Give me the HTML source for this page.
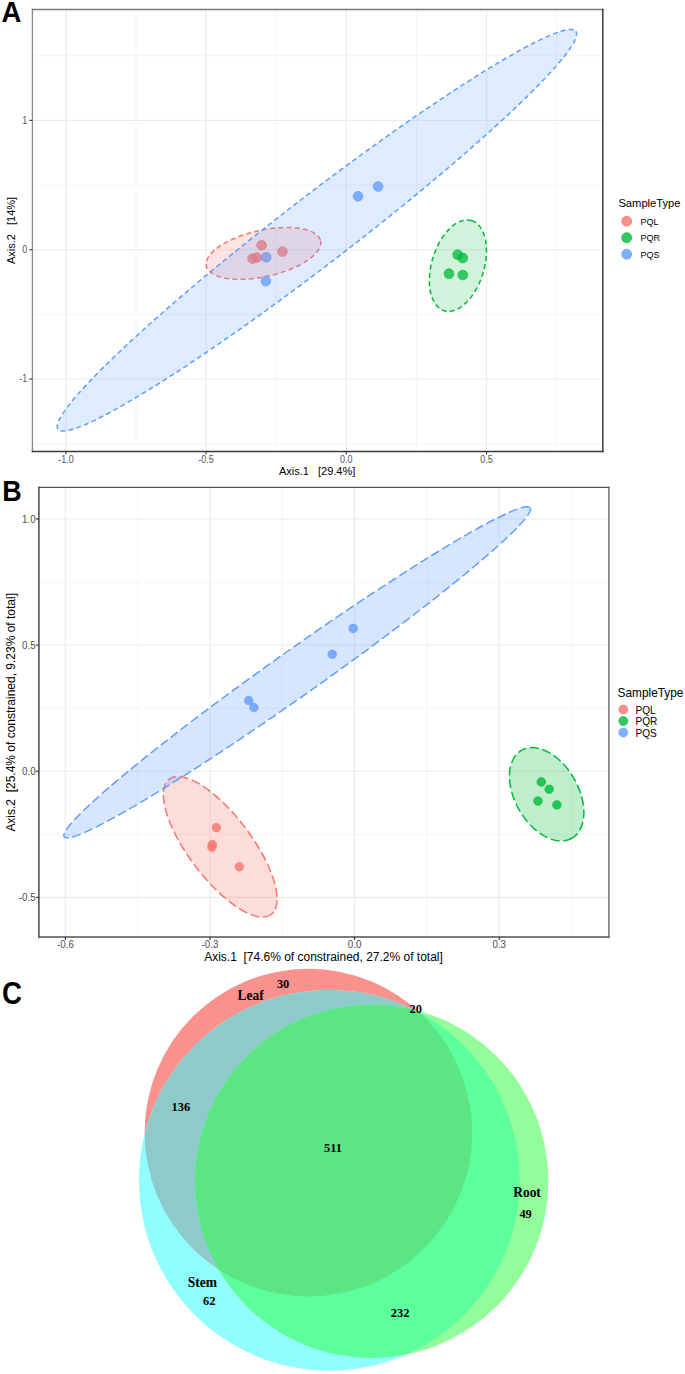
<!DOCTYPE html><html><head><meta charset="utf-8"><style>html,body{margin:0;padding:0;background:#fff;width:685px;height:1374px;overflow:hidden}svg{display:block}text{white-space:pre}</style></head><body>
<svg width="685" height="1374" viewBox="0 0 685 1374">
<rect width="685" height="1374" fill="#fff"/>
<line x1="136.00000000000003" y1="9.5" x2="136.00000000000003" y2="451.5" stroke="#F2F2F2" stroke-width="0.8"/>
<line x1="276.20000000000005" y1="9.5" x2="276.20000000000005" y2="451.5" stroke="#F2F2F2" stroke-width="0.8"/>
<line x1="416.4" y1="9.5" x2="416.4" y2="451.5" stroke="#F2F2F2" stroke-width="0.8"/>
<line x1="556.6" y1="9.5" x2="556.6" y2="451.5" stroke="#F2F2F2" stroke-width="0.8"/>
<line x1="32.4" y1="55.74999999999997" x2="602.8" y2="55.74999999999997" stroke="#F2F2F2" stroke-width="0.8"/>
<line x1="32.4" y1="185.04999999999998" x2="602.8" y2="185.04999999999998" stroke="#F2F2F2" stroke-width="0.8"/>
<line x1="32.4" y1="314.35" x2="602.8" y2="314.35" stroke="#F2F2F2" stroke-width="0.8"/>
<line x1="32.4" y1="443.65" x2="602.8" y2="443.65" stroke="#F2F2F2" stroke-width="0.8"/>
<line x1="65.90000000000003" y1="9.5" x2="65.90000000000003" y2="451.5" stroke="#EBEBEB" stroke-width="1.1"/>
<line x1="206.10000000000002" y1="9.5" x2="206.10000000000002" y2="451.5" stroke="#EBEBEB" stroke-width="1.1"/>
<line x1="346.3" y1="9.5" x2="346.3" y2="451.5" stroke="#EBEBEB" stroke-width="1.1"/>
<line x1="486.5" y1="9.5" x2="486.5" y2="451.5" stroke="#EBEBEB" stroke-width="1.1"/>
<line x1="32.4" y1="120.39999999999998" x2="602.8" y2="120.39999999999998" stroke="#EBEBEB" stroke-width="1.1"/>
<line x1="32.4" y1="249.7" x2="602.8" y2="249.7" stroke="#EBEBEB" stroke-width="1.1"/>
<line x1="32.4" y1="379.0" x2="602.8" y2="379.0" stroke="#EBEBEB" stroke-width="1.1"/>
<circle cx="261.6" cy="245.3" r="4.85" fill="#F8766D" fill-opacity="0.78" stroke="#F8766D" stroke-opacity="0.78" stroke-width="0.9"/>
<circle cx="252.6" cy="258.6" r="4.85" fill="#F8766D" fill-opacity="0.78" stroke="#F8766D" stroke-opacity="0.78" stroke-width="0.9"/>
<circle cx="256.9" cy="257.6" r="4.85" fill="#F8766D" fill-opacity="0.78" stroke="#F8766D" stroke-opacity="0.78" stroke-width="0.9"/>
<circle cx="282.5" cy="251.6" r="4.85" fill="#F8766D" fill-opacity="0.78" stroke="#F8766D" stroke-opacity="0.78" stroke-width="0.9"/>
<circle cx="457.6" cy="254.7" r="4.85" fill="#00BA38" fill-opacity="0.75" stroke="#00BA38" stroke-opacity="0.75" stroke-width="0.9"/>
<circle cx="462.8" cy="258.0" r="4.85" fill="#00BA38" fill-opacity="0.75" stroke="#00BA38" stroke-opacity="0.75" stroke-width="0.9"/>
<circle cx="449.0" cy="273.7" r="4.85" fill="#00BA38" fill-opacity="0.75" stroke="#00BA38" stroke-opacity="0.75" stroke-width="0.9"/>
<circle cx="462.8" cy="275.0" r="4.85" fill="#00BA38" fill-opacity="0.75" stroke="#00BA38" stroke-opacity="0.75" stroke-width="0.9"/>
<circle cx="358.0" cy="196.3" r="4.85" fill="#619CFF" fill-opacity="0.78" stroke="#619CFF" stroke-opacity="0.78" stroke-width="0.9"/>
<circle cx="378.1" cy="186.5" r="4.85" fill="#619CFF" fill-opacity="0.78" stroke="#619CFF" stroke-opacity="0.78" stroke-width="0.9"/>
<circle cx="266.2" cy="257.3" r="4.85" fill="#619CFF" fill-opacity="0.78" stroke="#619CFF" stroke-opacity="0.78" stroke-width="0.9"/>
<circle cx="265.9" cy="281.1" r="4.85" fill="#619CFF" fill-opacity="0.78" stroke="#619CFF" stroke-opacity="0.78" stroke-width="0.9"/>
<ellipse cx="263.45" cy="253.4" rx="58.5" ry="23.2" transform="rotate(-12.5 263.45 253.4)" fill="#F8766D" fill-opacity="0.2" stroke="#F8766D" stroke-width="1.5" stroke-dasharray="5 3.2" stroke-dashoffset="0"/>
<ellipse cx="457.9" cy="265.65" rx="47.15" ry="26.2" transform="rotate(-73.1 457.9 265.65)" fill="#00BA38" fill-opacity="0.18" stroke="#00BA38" stroke-width="1.5" stroke-dasharray="5 3.2" stroke-dashoffset="0"/>
<ellipse cx="316.9" cy="230.3" rx="326.5" ry="33.9" transform="rotate(-37.55 316.9 230.3)" fill="#619CFF" fill-opacity="0.2" stroke="#619CFF" stroke-width="1.5" stroke-dasharray="5 3.2" stroke-dashoffset="0"/>
<line x1="31.75" y1="9.5" x2="603.55" y2="9.5" stroke="#777" stroke-width="1.3"/>
<line x1="32.4" y1="8.85" x2="32.4" y2="452.25" stroke="#888" stroke-width="1.3"/>
<line x1="31.75" y1="451.5" x2="603.55" y2="451.5" stroke="#3a3a3a" stroke-width="1.5"/>
<line x1="602.8" y1="8.85" x2="602.8" y2="452.25" stroke="#3a3a3a" stroke-width="1.5"/>
<line x1="29.4" y1="120.39999999999998" x2="32.4" y2="120.39999999999998" stroke="#333" stroke-width="1.1"/>
<text x="0" y="0" transform="translate(27.2 123.79999999999998) scale(1.0 1.12)" font-family='"Liberation Sans", sans-serif' font-size="9" fill="#555" text-anchor="end" font-weight="normal" >1</text>
<line x1="29.4" y1="249.7" x2="32.4" y2="249.7" stroke="#333" stroke-width="1.1"/>
<text x="0" y="0" transform="translate(27.2 253.1) scale(1.0 1.12)" font-family='"Liberation Sans", sans-serif' font-size="9" fill="#555" text-anchor="end" font-weight="normal" >0</text>
<line x1="29.4" y1="379.0" x2="32.4" y2="379.0" stroke="#333" stroke-width="1.1"/>
<text x="0" y="0" transform="translate(27.2 382.4) scale(1.0 1.12)" font-family='"Liberation Sans", sans-serif' font-size="9" fill="#555" text-anchor="end" font-weight="normal" >-1</text>
<line x1="65.90000000000003" y1="451.5" x2="65.90000000000003" y2="454.5" stroke="#333" stroke-width="1.1"/>
<text x="0" y="0" transform="translate(65.90000000000003 462.6) scale(1.0 1.12)" font-family='"Liberation Sans", sans-serif' font-size="9" fill="#555" text-anchor="middle" font-weight="normal" >-1.0</text>
<line x1="206.10000000000002" y1="451.5" x2="206.10000000000002" y2="454.5" stroke="#333" stroke-width="1.1"/>
<text x="0" y="0" transform="translate(206.10000000000002 462.6) scale(1.0 1.12)" font-family='"Liberation Sans", sans-serif' font-size="9" fill="#555" text-anchor="middle" font-weight="normal" >-0.5</text>
<line x1="346.3" y1="451.5" x2="346.3" y2="454.5" stroke="#333" stroke-width="1.1"/>
<text x="0" y="0" transform="translate(346.3 462.6) scale(1.0 1.12)" font-family='"Liberation Sans", sans-serif' font-size="9" fill="#555" text-anchor="middle" font-weight="normal" >0.0</text>
<line x1="486.5" y1="451.5" x2="486.5" y2="454.5" stroke="#333" stroke-width="1.1"/>
<text x="0" y="0" transform="translate(486.5 462.6) scale(1.0 1.12)" font-family='"Liberation Sans", sans-serif' font-size="9" fill="#555" text-anchor="middle" font-weight="normal" >0.5</text>
<text x="0" y="0" transform="translate(317.1 474.5) scale(1.0 1.04)" font-family='"Liberation Sans", sans-serif' font-size="11" fill="#000" text-anchor="middle" font-weight="normal" >Axis.1   [29.4%]</text>
<text x="0" y="0" transform="translate(14.8 230.5) rotate(-90) scale(1.0 1.04)" font-family='"Liberation Sans", sans-serif' font-size="11" fill="#000" text-anchor="middle" font-weight="normal" >Axis.2   [14%]</text>
<text x="0" y="0" transform="translate(618.4 207.2) scale(1.0 1.04)" font-family='"Liberation Sans", sans-serif' font-size="11.2" fill="#000" text-anchor="start" font-weight="normal" >SampleType</text>
<circle cx="626.7" cy="221.2" r="4.95" fill="#F8766D" fill-opacity="0.8" stroke="#F8766D" stroke-opacity="0.8" stroke-width="0.9"/>
<text x="0" y="0" transform="translate(640.5 224.5) scale(1.0 1.04)" font-family='"Liberation Sans", sans-serif' font-size="9.0" fill="#000" text-anchor="start" font-weight="normal" >PQL</text>
<circle cx="626.7" cy="237.7" r="4.95" fill="#00BA38" fill-opacity="0.8" stroke="#00BA38" stroke-opacity="0.8" stroke-width="0.9"/>
<text x="0" y="0" transform="translate(640.5 241.0) scale(1.0 1.04)" font-family='"Liberation Sans", sans-serif' font-size="9.0" fill="#000" text-anchor="start" font-weight="normal" >PQR</text>
<circle cx="626.7" cy="254.2" r="4.95" fill="#619CFF" fill-opacity="0.8" stroke="#619CFF" stroke-opacity="0.8" stroke-width="0.9"/>
<text x="0" y="0" transform="translate(640.5 257.5) scale(1.0 1.04)" font-family='"Liberation Sans", sans-serif' font-size="9.0" fill="#000" text-anchor="start" font-weight="normal" >PQS</text>
<text x="0" y="0" transform="translate(1.4 21.6) scale(0.926 1.0)" font-family='"Liberation Sans", sans-serif' font-size="29.7" fill="#000" text-anchor="start" font-weight="bold" >A</text>
<line x1="137.70000000000002" y1="487.4" x2="137.70000000000002" y2="937.0" stroke="#F2F2F2" stroke-width="0.8"/>
<line x1="282.3" y1="487.4" x2="282.3" y2="937.0" stroke="#F2F2F2" stroke-width="0.8"/>
<line x1="426.90000000000003" y1="487.4" x2="426.90000000000003" y2="937.0" stroke="#F2F2F2" stroke-width="0.8"/>
<line x1="571.5" y1="487.4" x2="571.5" y2="937.0" stroke="#F2F2F2" stroke-width="0.8"/>
<line x1="38.9" y1="582.0050000000001" x2="608.9" y2="582.0050000000001" stroke="#F2F2F2" stroke-width="0.8"/>
<line x1="38.9" y1="708.135" x2="608.9" y2="708.135" stroke="#F2F2F2" stroke-width="0.8"/>
<line x1="38.9" y1="834.2650000000001" x2="608.9" y2="834.2650000000001" stroke="#F2F2F2" stroke-width="0.8"/>
<line x1="65.40000000000003" y1="487.4" x2="65.40000000000003" y2="937.0" stroke="#EBEBEB" stroke-width="1.1"/>
<line x1="210.00000000000003" y1="487.4" x2="210.00000000000003" y2="937.0" stroke="#EBEBEB" stroke-width="1.1"/>
<line x1="354.6" y1="487.4" x2="354.6" y2="937.0" stroke="#EBEBEB" stroke-width="1.1"/>
<line x1="499.20000000000005" y1="487.4" x2="499.20000000000005" y2="937.0" stroke="#EBEBEB" stroke-width="1.1"/>
<line x1="38.9" y1="518.94" x2="608.9" y2="518.94" stroke="#EBEBEB" stroke-width="1.1"/>
<line x1="38.9" y1="645.07" x2="608.9" y2="645.07" stroke="#EBEBEB" stroke-width="1.1"/>
<line x1="38.9" y1="771.2" x2="608.9" y2="771.2" stroke="#EBEBEB" stroke-width="1.1"/>
<line x1="38.9" y1="897.33" x2="608.9" y2="897.33" stroke="#EBEBEB" stroke-width="1.1"/>
<circle cx="216.4" cy="827.6" r="4.3" fill="#F8766D" fill-opacity="0.8" stroke="#F8766D" stroke-opacity="0.8" stroke-width="0.8"/>
<circle cx="212.3" cy="844.6" r="4.3" fill="#F8766D" fill-opacity="0.8" stroke="#F8766D" stroke-opacity="0.8" stroke-width="0.8"/>
<circle cx="211.9" cy="847.3" r="4.3" fill="#F8766D" fill-opacity="0.8" stroke="#F8766D" stroke-opacity="0.8" stroke-width="0.8"/>
<circle cx="239.3" cy="866.7" r="4.3" fill="#F8766D" fill-opacity="0.8" stroke="#F8766D" stroke-opacity="0.8" stroke-width="0.8"/>
<circle cx="541.3" cy="781.9" r="4.3" fill="#00BA38" fill-opacity="0.8" stroke="#00BA38" stroke-opacity="0.8" stroke-width="0.8"/>
<circle cx="549.2" cy="789.2" r="4.3" fill="#00BA38" fill-opacity="0.8" stroke="#00BA38" stroke-opacity="0.8" stroke-width="0.8"/>
<circle cx="537.9" cy="801.0" r="4.3" fill="#00BA38" fill-opacity="0.8" stroke="#00BA38" stroke-opacity="0.8" stroke-width="0.8"/>
<circle cx="556.9" cy="804.9" r="4.3" fill="#00BA38" fill-opacity="0.8" stroke="#00BA38" stroke-opacity="0.8" stroke-width="0.8"/>
<circle cx="248.8" cy="700.5" r="4.3" fill="#619CFF" fill-opacity="0.8" stroke="#619CFF" stroke-opacity="0.8" stroke-width="0.8"/>
<circle cx="253.9" cy="707.5" r="4.3" fill="#619CFF" fill-opacity="0.8" stroke="#619CFF" stroke-opacity="0.8" stroke-width="0.8"/>
<circle cx="332.2" cy="654.3" r="4.3" fill="#619CFF" fill-opacity="0.8" stroke="#619CFF" stroke-opacity="0.8" stroke-width="0.8"/>
<circle cx="353.2" cy="628.4" r="4.3" fill="#619CFF" fill-opacity="0.8" stroke="#619CFF" stroke-opacity="0.8" stroke-width="0.8"/>
<ellipse cx="220.2" cy="846.8" rx="84.8" ry="31.5" transform="rotate(53.0 220.2 846.8)" fill="#F8766D" fill-opacity="0.25" stroke="#F8766D" stroke-width="1.5" stroke-dasharray="9 3.7" stroke-dashoffset="0"/>
<ellipse cx="546.65" cy="794.3" rx="50.67" ry="31.6" transform="rotate(60.2 546.65 794.3)" fill="#00BA38" fill-opacity="0.25" stroke="#00BA38" stroke-width="1.5" stroke-dasharray="9 3.7" stroke-dashoffset="0"/>
<ellipse cx="297.15" cy="672.3" rx="285.2" ry="22.7" transform="rotate(-35.23 297.15 672.3)" fill="#619CFF" fill-opacity="0.25" stroke="#619CFF" stroke-width="1.5" stroke-dasharray="9 3.7" stroke-dashoffset="0"/>
<line x1="38.15" y1="487.4" x2="609.55" y2="487.4" stroke="#555" stroke-width="1.3"/>
<line x1="38.9" y1="486.75" x2="38.9" y2="937.75" stroke="#444" stroke-width="1.5"/>
<line x1="38.15" y1="937.0" x2="609.55" y2="937.0" stroke="#505050" stroke-width="1.5"/>
<line x1="608.9" y1="486.75" x2="608.9" y2="937.75" stroke="#5a5a5a" stroke-width="1.3"/>
<line x1="35.9" y1="518.94" x2="38.9" y2="518.94" stroke="#333" stroke-width="1.1"/>
<text x="0" y="0" transform="translate(35.6 522.84) scale(1.0 1.12)" font-family='"Liberation Sans", sans-serif' font-size="9.8" fill="#4D4D4D" text-anchor="end" font-weight="normal" >1.0</text>
<line x1="35.9" y1="645.07" x2="38.9" y2="645.07" stroke="#333" stroke-width="1.1"/>
<text x="0" y="0" transform="translate(35.6 648.97) scale(1.0 1.12)" font-family='"Liberation Sans", sans-serif' font-size="9.8" fill="#4D4D4D" text-anchor="end" font-weight="normal" >0.5</text>
<line x1="35.9" y1="771.2" x2="38.9" y2="771.2" stroke="#333" stroke-width="1.1"/>
<text x="0" y="0" transform="translate(35.6 775.1) scale(1.0 1.12)" font-family='"Liberation Sans", sans-serif' font-size="9.8" fill="#4D4D4D" text-anchor="end" font-weight="normal" >0.0</text>
<line x1="35.9" y1="897.33" x2="38.9" y2="897.33" stroke="#333" stroke-width="1.1"/>
<text x="0" y="0" transform="translate(35.6 901.23) scale(1.0 1.12)" font-family='"Liberation Sans", sans-serif' font-size="9.8" fill="#4D4D4D" text-anchor="end" font-weight="normal" >-0.5</text>
<line x1="65.40000000000003" y1="937.0" x2="65.40000000000003" y2="940.0" stroke="#333" stroke-width="1.1"/>
<text x="0" y="0" transform="translate(65.40000000000003 948.2) scale(1.0 1.12)" font-family='"Liberation Sans", sans-serif' font-size="9.8" fill="#4D4D4D" text-anchor="middle" font-weight="normal" >-0.6</text>
<line x1="210.00000000000003" y1="937.0" x2="210.00000000000003" y2="940.0" stroke="#333" stroke-width="1.1"/>
<text x="0" y="0" transform="translate(210.00000000000003 948.2) scale(1.0 1.12)" font-family='"Liberation Sans", sans-serif' font-size="9.8" fill="#4D4D4D" text-anchor="middle" font-weight="normal" >-0.3</text>
<line x1="354.6" y1="937.0" x2="354.6" y2="940.0" stroke="#333" stroke-width="1.1"/>
<text x="0" y="0" transform="translate(354.6 948.2) scale(1.0 1.12)" font-family='"Liberation Sans", sans-serif' font-size="9.8" fill="#4D4D4D" text-anchor="middle" font-weight="normal" >0.0</text>
<line x1="499.20000000000005" y1="937.0" x2="499.20000000000005" y2="940.0" stroke="#333" stroke-width="1.1"/>
<text x="0" y="0" transform="translate(499.20000000000005 948.2) scale(1.0 1.12)" font-family='"Liberation Sans", sans-serif' font-size="9.8" fill="#4D4D4D" text-anchor="middle" font-weight="normal" >0.3</text>
<text x="0" y="0" transform="translate(323.5 960.5) scale(1.0 1.04)" font-family='"Liberation Sans", sans-serif' font-size="12" fill="#000" text-anchor="middle" font-weight="normal" >Axis.1  [74.6% of constrained, 27.2% of total]</text>
<text x="0" y="0" transform="translate(14.5 712.3) rotate(-90) scale(1.0 1.04)" font-family='"Liberation Sans", sans-serif' font-size="12" fill="#000" text-anchor="middle" font-weight="normal" >Axis.2  [25.4% of constrained, 9.23% of total]</text>
<text x="0" y="0" transform="translate(617.6 697.0)" font-family='"Liberation Sans", sans-serif' font-size="11.85" fill="#000" text-anchor="start" font-weight="normal" >SampleType</text>
<circle cx="623.3" cy="709.5" r="4.5" fill="#F8766D" fill-opacity="0.8" stroke="#F8766D" stroke-opacity="0.8" stroke-width="0.8"/>
<text x="0" y="0" transform="translate(635.4 713.6)" font-family='"Liberation Sans", sans-serif' font-size="10.1" fill="#000" text-anchor="start" font-weight="normal" >PQL</text>
<circle cx="623.3" cy="721.0" r="4.5" fill="#00BA38" fill-opacity="0.8" stroke="#00BA38" stroke-opacity="0.8" stroke-width="0.8"/>
<text x="0" y="0" transform="translate(635.4 725.1)" font-family='"Liberation Sans", sans-serif' font-size="10.1" fill="#000" text-anchor="start" font-weight="normal" >PQR</text>
<circle cx="623.3" cy="732.5" r="4.5" fill="#619CFF" fill-opacity="0.8" stroke="#619CFF" stroke-opacity="0.8" stroke-width="0.8"/>
<text x="0" y="0" transform="translate(635.4 736.6)" font-family='"Liberation Sans", sans-serif' font-size="10.1" fill="#000" text-anchor="start" font-weight="normal" >PQS</text>
<text x="0" y="0" transform="translate(2.2 500.9) scale(0.9375 1.0)" font-family='"Liberation Sans", sans-serif' font-size="28.7" fill="#000" text-anchor="start" font-weight="bold" >B</text>
<defs>
<clipPath id="cL"><circle cx="308.4" cy="1132.6" r="163.8"/></clipPath>
<clipPath id="cS"><circle cx="329.3" cy="1180.3" r="190.4"/></clipPath>
<clipPath id="cR"><circle cx="371.7" cy="1181.2" r="176.7"/></clipPath>
</defs>
<circle cx="329.3" cy="1180.3" r="190.4" fill="#91FDFD"/>
<circle cx="371.7" cy="1181.2" r="176.7" fill="#93FD9C"/>
<g clip-path="url(#cS)"><circle cx="371.7" cy="1181.2" r="176.7" fill="#5CFF9C"/></g>
<mask id="mLo" maskUnits="userSpaceOnUse" x="0" y="940" width="685" height="434"><rect x="0" y="940" width="685" height="434" fill="#fff"/><circle cx="329.3" cy="1180.3" r="190.4" fill="#000"/><circle cx="371.7" cy="1181.2" r="176.7" fill="#000"/></mask>
<mask id="mNoR" maskUnits="userSpaceOnUse" x="0" y="940" width="685" height="434"><rect x="0" y="940" width="685" height="434" fill="#fff"/><circle cx="371.7" cy="1181.2" r="176.7" fill="#000"/></mask>
<mask id="mNoS" maskUnits="userSpaceOnUse" x="0" y="940" width="685" height="434"><rect x="0" y="940" width="685" height="434" fill="#fff"/><circle cx="329.3" cy="1180.3" r="190.4" fill="#000"/></mask>
<g mask="url(#mLo)"><circle cx="308.4" cy="1132.6" r="163.8" fill="#F9928C"/></g>
<g clip-path="url(#cL)"><g mask="url(#mNoS)"><circle cx="371.7" cy="1181.2" r="176.7" fill="#8CD98A"/></g></g>
<g clip-path="url(#cL)"><g mask="url(#mNoR)"><circle cx="329.3" cy="1180.3" r="190.4" fill="#8ECACA"/></g></g>
<g clip-path="url(#cL)"><g clip-path="url(#cS)"><circle cx="371.7" cy="1181.2" r="176.7" fill="#5BE583"/></g></g>
<text x="0" y="0" transform="translate(250.6 999.6) scale(1.0 1.03)" font-family='"Liberation Serif", serif' font-size="13.5" fill="#000" text-anchor="middle" font-weight="bold" >Leaf</text>
<text x="0" y="0" transform="translate(283.1 987.9) scale(1.0 1.09)" font-family='"Liberation Serif", serif' font-size="12.4" fill="#000" text-anchor="middle" font-weight="bold" >30</text>
<text x="0" y="0" transform="translate(415.7 1013.2) scale(1.0 1.09)" font-family='"Liberation Serif", serif' font-size="12.4" fill="#000" text-anchor="middle" font-weight="bold" >20</text>
<text x="0" y="0" transform="translate(180.8 1110.5) scale(1.0 1.09)" font-family='"Liberation Serif", serif' font-size="12.4" fill="#000" text-anchor="middle" font-weight="bold" >136</text>
<text x="0" y="0" transform="translate(333.0 1151.6) scale(1.0 1.09)" font-family='"Liberation Serif", serif' font-size="12.4" fill="#000" text-anchor="middle" font-weight="bold" >511</text>
<text x="0" y="0" transform="translate(527.0 1197.4) scale(1.0 1.03)" font-family='"Liberation Serif", serif' font-size="13.5" fill="#000" text-anchor="middle" font-weight="bold" >Root</text>
<text x="0" y="0" transform="translate(525.6 1217.5) scale(1.0 1.09)" font-family='"Liberation Serif", serif' font-size="12.4" fill="#000" text-anchor="middle" font-weight="bold" >49</text>
<text x="0" y="0" transform="translate(202.4 1287.0) scale(1.0 1.03)" font-family='"Liberation Serif", serif' font-size="13.5" fill="#000" text-anchor="middle" font-weight="bold" >Stem</text>
<text x="0" y="0" transform="translate(209.2 1305.2) scale(1.0 1.09)" font-family='"Liberation Serif", serif' font-size="12.4" fill="#000" text-anchor="middle" font-weight="bold" >62</text>
<text x="0" y="0" transform="translate(400.1 1316.6) scale(1.0 1.09)" font-family='"Liberation Serif", serif' font-size="12.4" fill="#000" text-anchor="middle" font-weight="bold" >232</text>
<text x="0" y="0" transform="translate(2.0 1003.9) scale(0.889 1.0)" font-family='"Liberation Sans", sans-serif' font-size="31.2" fill="#000" text-anchor="start" font-weight="bold" >C</text>
</svg></body></html>
